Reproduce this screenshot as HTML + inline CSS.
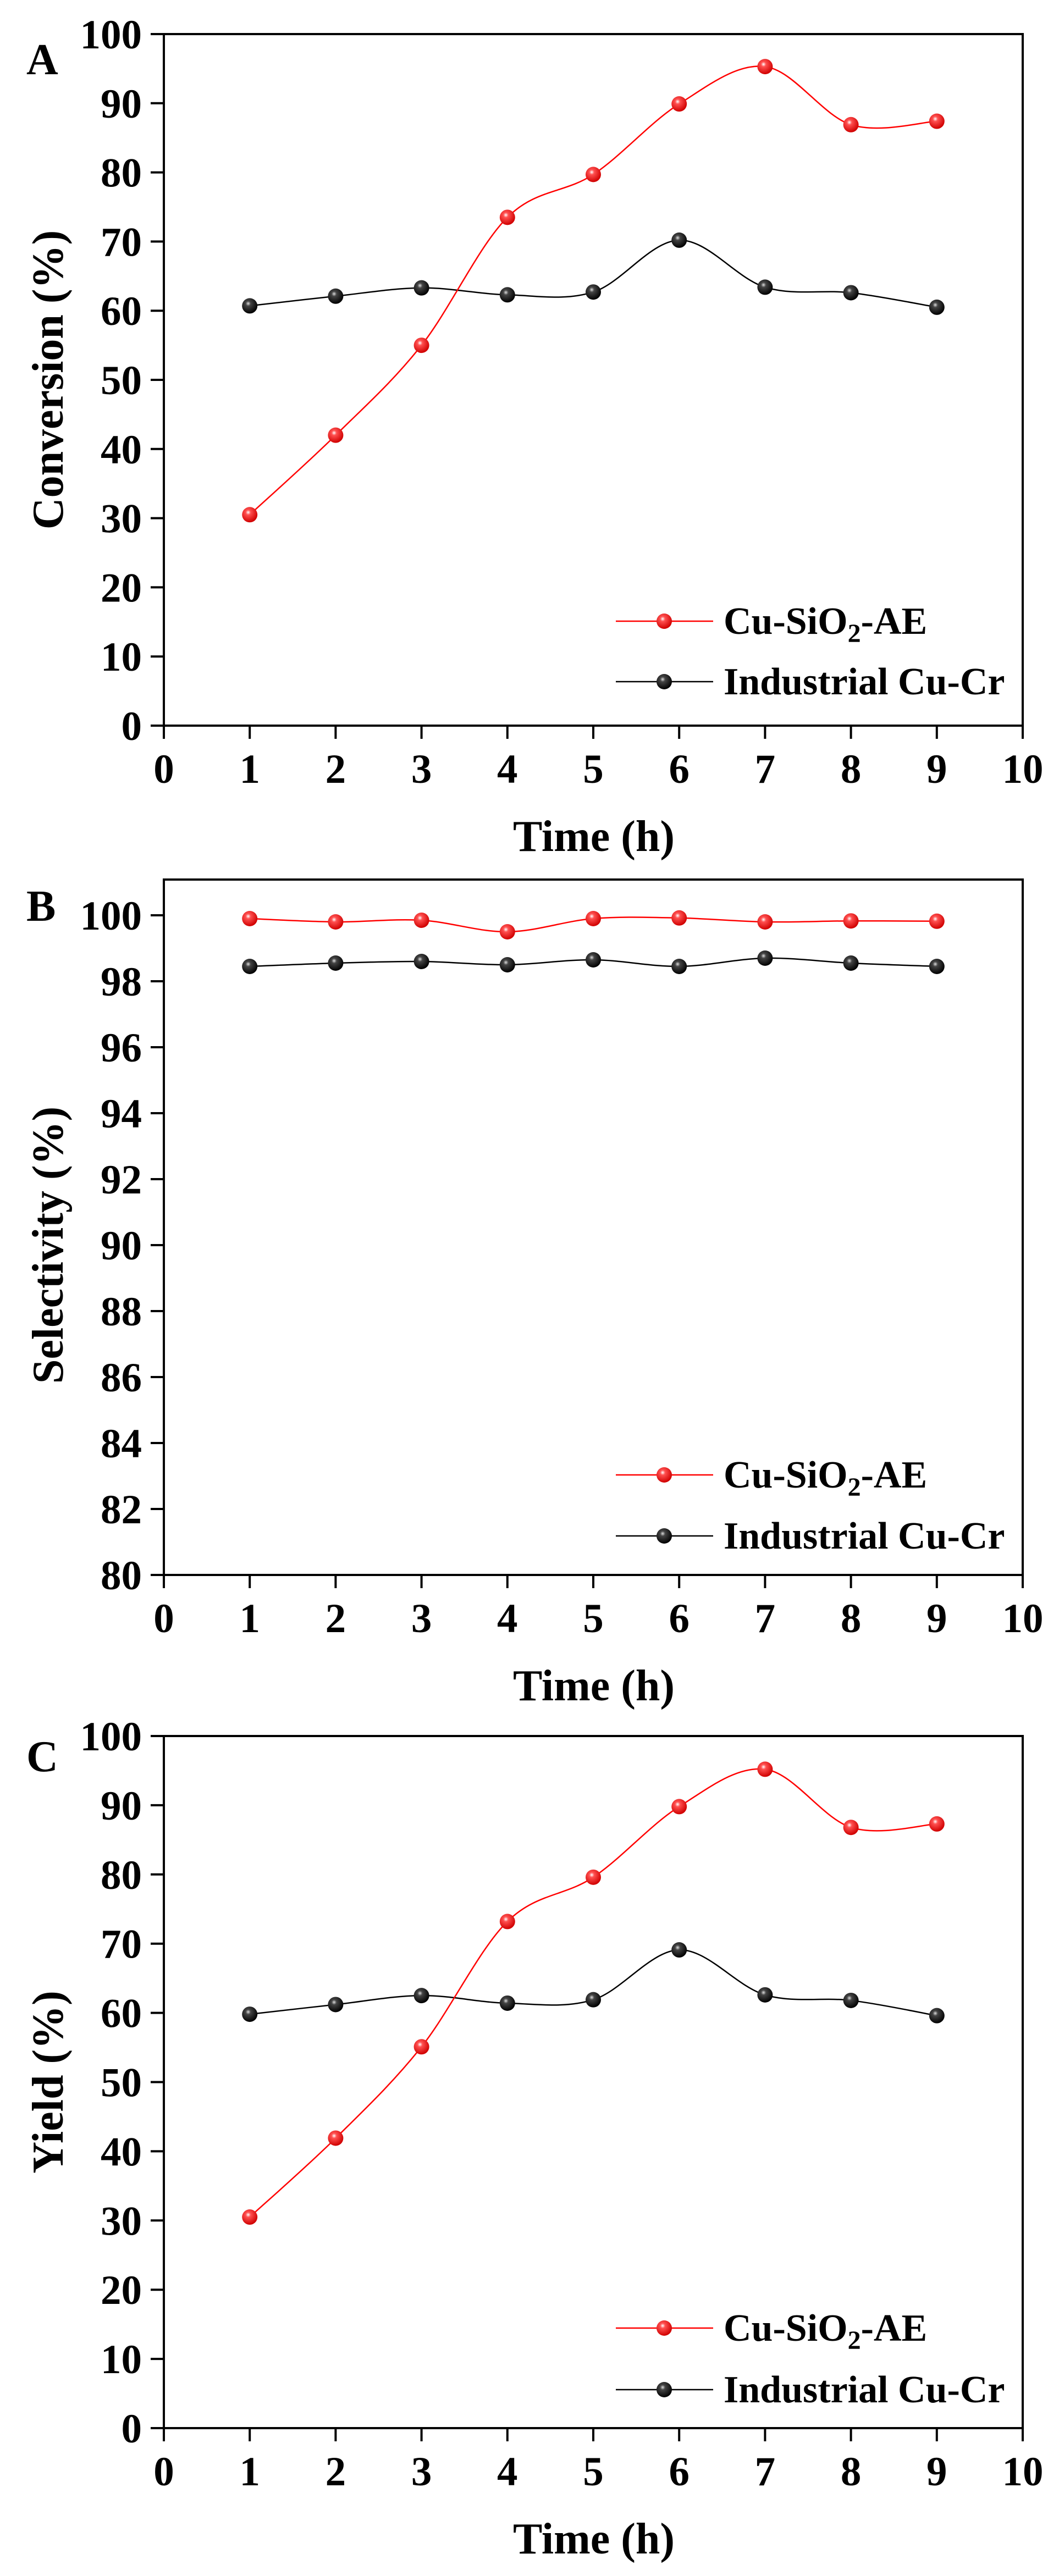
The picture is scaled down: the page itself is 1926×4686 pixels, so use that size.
<!DOCTYPE html>
<html><head><meta charset="utf-8"><style>
html,body{margin:0;padding:0;background:#fff;}
svg{display:block;}
text{font-family:"Liberation Serif",serif;font-weight:bold;fill:#000;}
</style></head><body>
<svg id="s" width="1926" height="4686" xmlns="http://www.w3.org/2000/svg">
<defs>
<radialGradient id="gr" cx="0.4" cy="0.35" r="0.65"><stop offset="0" stop-color="#fff"/><stop offset="0.25" stop-color="#ff5050"/><stop offset="1" stop-color="#d00000"/></radialGradient>
<radialGradient id="gk" cx="0.4" cy="0.35" r="0.65"><stop offset="0" stop-color="#ddd"/><stop offset="0.25" stop-color="#444"/><stop offset="1" stop-color="#000"/></radialGradient>
</defs>
</svg>
<script>
var S=document.getElementById('s'),NS='http://www.w3.org/2000/svg';
function el(t,a,txt){var e=document.createElementNS(NS,t);for(var k in a)e.setAttribute(k,a[k]);if(txt!==undefined)e.textContent=txt;S.appendChild(e);return e;}
var X0=298,XS=156.2;
function px(x){return X0+x*XS;}
function panel(o){
 var ymin=o.ymin,ymax=o.ymax,yT=o.yTop,yB=o.yBot;
 function py(v){return yB-(v-ymin)/(ymax-ymin)*(yB-yT);}
 var top=o.frameTop||yT;
 el('rect',{x:X0,y:top,width:px(10)-X0,height:yB-top,fill:'none',stroke:'#000','stroke-width':4});
 for(var v=ymin;v<=ymax+1e-9;v+=o.step){var y=py(v);el('line',{x1:X0-24,y1:y,x2:X0,y2:y,stroke:'#000','stroke-width':4});
  el('text',{x:258,y:y+26,'text-anchor':'end','font-size':75},String(v));}
 for(var i=0;i<=10;i++){var x=px(i);el('line',{x1:x,y1:yB,x2:x,y2:yB+24,stroke:'#000','stroke-width':4});
  el('text',{x:x,y:yB+104,'text-anchor':'middle','font-size':75},String(i));}
 el('text',{x:1080,y:yB+228,'text-anchor':'middle','font-size':80},'Time (h)');
 var cy=(yT+yB)/2;
 el('text',{x:0,y:0,'text-anchor':'middle','font-size':80,transform:'translate(114,'+cy+') rotate(-90)'},o.ylab);
 el('text',{x:48,y:o.letY,'font-size':80},o.letter);
 function series(d,col,g){
  var p=d.map(function(v,i){return [px(i+1),py(v)];});
  var s='M'+p[0][0]+','+p[0][1];
  for(var i=0;i<p.length-1;i++){var a=p[i-1]||p[i],b=p[i],c=p[i+1],e=p[i+2]||c;
   s+=' C'+(b[0]+(c[0]-a[0])/6)+','+(b[1]+(c[1]-a[1])/6)+' '+(c[0]-(e[0]-b[0])/6)+','+(c[1]-(e[1]-b[1])/6)+' '+c[0]+','+c[1];}
  el('path',{d:s,fill:'none',stroke:col,'stroke-width':2.5});
  p.forEach(function(q){el('circle',{cx:q[0],cy:q[1],r:14,fill:'url(#'+g+')'});});
 }
 series(o.k,'#000','gk');series(o.r,'#f00','gr');
 var L=[[o.legY1,'#f00','gr'],[o.legY2,'#000','gk']];
 L.forEach(function(l){el('line',{x1:1120,y1:l[0],x2:1297,y2:l[0],stroke:l[1],'stroke-width':2.5});el('circle',{cx:1208,cy:l[0],r:14,fill:'url(#'+l[2]+')'});});
 var t=el('text',{x:1316,y:o.legY1+23,'font-size':70});
 t.innerHTML='Cu-SiO<tspan dy="15" font-size="48">2</tspan><tspan dy="-15">-AE</tspan>';
 el('text',{x:1316,y:o.legY2+23,'font-size':70},'Industrial Cu-Cr');
}
panel({ymin:0,ymax:100,step:10,yTop:62,yBot:1320,ylab:'Conversion (%)',letter:'A',letY:135,legY1:1130,legY2:1240,
 r:[30.5,42,55,73.5,79.7,89.9,95.3,86.9,87.4],k:[60.7,62.1,63.3,62.3,62.7,70.2,63.4,62.6,60.5]});
panel({ymin:80,ymax:100,step:2,yTop:1665,yBot:2865,frameTop:1600,ylab:'Selectivity (%)',letter:'B',letY:1675,legY1:2683,legY2:2794,
 r:[99.9,99.8,99.85,99.5,99.9,99.92,99.8,99.83,99.82],k:[98.45,98.55,98.6,98.5,98.65,98.45,98.7,98.55,98.45]});
panel({ymin:0,ymax:100,step:10,yTop:3158,yBot:4417,ylab:'Yield (%)',letter:'C',letY:3222,legY1:4235,legY2:4347,
 r:[30.5,41.9,55.1,73.2,79.6,89.8,95.2,86.8,87.3],k:[59.8,61.2,62.5,61.4,61.9,69.1,62.6,61.8,59.6]});
</script>
</body></html>
